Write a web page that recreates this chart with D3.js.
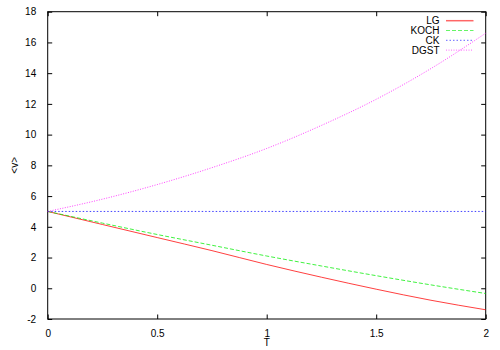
<!DOCTYPE html>
<html><head><meta charset="utf-8">
<script src="https://cdn.jsdelivr.net/npm/d3@7"></script>
<style>body{margin:0;background:#fff}svg{display:block}text{font-family:"Liberation Sans",Arial,sans-serif;fill:#000}</style>
</head><body><div id="chart"></div>
<script>
const T = [0, 0.25, 0.5, 0.75, 1, 1.25, 1.5, 1.75, 2];
const LG = [5, 4.15, 3.3, 2.45, 1.55, 0.72, -0.06, -0.78, -1.4];
const KOCH = [5, 4.24, 3.5, 2.8, 2.1, 1.45, 0.82, 0.22, -0.34];
const CK = [5, 5, 5, 5, 5, 5, 5, 5, 5];
const DGST = [5, 5.8, 6.75, 7.85, 9.1, 10.6, 12.3, 14.3, 16.6];
const seriesNames = ["LG", "KOCH", "CK", "DGST"];
const xTicks = [0, 0.5, 1, 1.5, 2];
const yTicks = [-2, 0, 2, 4, 6, 8, 10, 12, 14, 16, 18];

const W = 500, H = 350;
const m = {l: 47.7, r: 500 - 485.7, t: 11.7, b: 350 - 319};
const svg = d3.select("#chart").append("svg").attr("width", W).attr("height", H);
const x = d3.scaleLinear().domain([0, 2]).range([m.l, W - m.r]);
const y = d3.scaleLinear().domain([-2, 18]).range([H - m.b, m.t]);

const styles = {
  LG: {color: "#ff0000", dash: null, data: LG},
  KOCH: {color: "#00ee00", dash: "4,2", data: KOCH},
  CK: {color: "#0000ff", dash: "1.5,2", data: CK},
  DGST: {color: "#ff00ff", dash: "1,1.5", data: DGST}
};

const fmt = d => String(d);
// axes with inward ticks, mirrored
const tl = 4.5;
svg.append("g").attr("transform", `translate(${m.l},0)`)
  .call(d3.axisLeft(y).tickValues(yTicks).tickSizeInner(-tl).tickSizeOuter(0).tickPadding(7 + tl).tickFormat(fmt))
  .call(g => g.select(".domain").remove());
svg.append("g").attr("transform", `translate(${W - m.r},0)`)
  .call(d3.axisRight(y).tickValues(yTicks).tickSizeInner(-tl).tickSizeOuter(0).tickFormat(""))
  .call(g => g.select(".domain").remove());
svg.append("g").attr("transform", `translate(0,${H - m.b})`)
  .call(d3.axisBottom(x).tickValues(xTicks).tickSizeInner(-tl).tickSizeOuter(0).tickPadding(6 + tl).tickFormat(fmt))
  .call(g => g.select(".domain").remove());
svg.append("g").attr("transform", `translate(0,${m.t})`)
  .call(d3.axisTop(x).tickValues(xTicks).tickSizeInner(-tl).tickSizeOuter(0).tickFormat(""))
  .call(g => g.select(".domain").remove());
svg.selectAll(".tick text").attr("font-size", 10).attr("font-family", '"Liberation Sans",Arial,sans-serif').attr("fill", "#000");
svg.selectAll(".tick line").attr("stroke", "#000");

svg.append("rect").attr("x", m.l).attr("y", m.t)
  .attr("width", x(2) - x(0)).attr("height", y(-2) - y(18))
  .attr("fill", "none").attr("stroke", "#000").attr("stroke-width", 1);

const line = d3.line().x((d, i) => x(T[i])).y(d => y(d)).curve(d3.curveMonotoneX);
seriesNames.forEach(n => {
  const s = styles[n];
  svg.append("path").datum(s.data).attr("d", line)
    .attr("fill", "none").attr("stroke", s.color).attr("stroke-width", 1)
    .attr("stroke-opacity", 0.75)
    .attr("stroke-dasharray", s.dash);
});

// legend
const lg = svg.append("g");
seriesNames.forEach((n, i) => {
  const s = styles[n];
  const yy = 20.7 + i * 9.8;
  lg.append("text").attr("x", 439.5).attr("y", yy).attr("dy", "0.35em")
    .attr("text-anchor", "end").attr("font-size", 10).text(n);
  lg.append("line").attr("x1", 446).attr("x2", 473.5).attr("y1", yy).attr("y2", yy)
    .attr("stroke", s.color).attr("stroke-width", n === "LG" ? 1.5 : 1).attr("stroke-opacity", 0.6)
    .attr("stroke-dasharray", s.dash);
});

// axis titles
svg.append("text").attr("x", (x(0) + x(2)) / 2).attr("y", 342.7).attr("dy", "0.35em")
  .attr("text-anchor", "middle").attr("font-size", 10).text("T");
svg.append("text").attr("transform", `translate(14,${(y(-2) + y(18)) / 2}) rotate(-90)`)
  .attr("dy", "0.35em").attr("text-anchor", "middle").attr("font-size", 10).text("<v>");
</script></body></html>
